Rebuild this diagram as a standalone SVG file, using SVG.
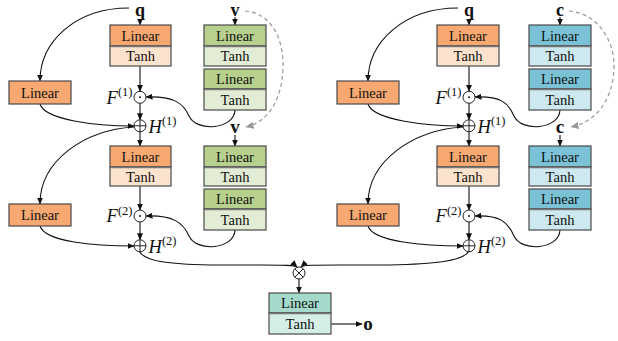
<svg xmlns="http://www.w3.org/2000/svg" width="618" height="341" viewBox="0 0 618 341">
<defs>
<style>
.box{stroke:#4a4a4a;stroke-width:1.2}
.t{font-family:"Liberation Serif","Times New Roman",serif;font-size:14.5px;fill:#111;text-anchor:middle}
.lbl{font-family:"Liberation Serif","Times New Roman",serif;font-size:19px;font-weight:bold;fill:#111;text-anchor:middle}
.top{font-size:18px}
.math{font-family:"Liberation Serif","Times New Roman",serif;font-size:18.5px;fill:#111}
.sup{font-size:12.5px;font-style:normal}
.op{fill:#fff;stroke:#222;stroke-width:1}
.opl{stroke:#222;stroke-width:1;fill:none}
.c{fill:none;stroke:#111;stroke-width:1.1;marker-end:url(#ah)}
.d{fill:none;stroke:#999;stroke-width:1.2;stroke-dasharray:4,3;marker-end:url(#ahg)}
.or1{fill:#F7A971}.or2{fill:#FCE3CE}
.gr1{fill:#B7D08D}.gr2{fill:#E3EDD5}
.bl1{fill:#7BC2D6}.bl2{fill:#CDE8EF}
.te1{fill:#A3DACB}.te2{fill:#D5EFE7}
.div{stroke:#777;stroke-width:1.4}
</style>
<marker id="ah" markerWidth="7" markerHeight="6" refX="6.5" refY="3" orient="auto" markerUnits="userSpaceOnUse"><path d="M0,0 L7,3 L0,6 z" fill="#111"/></marker>
<marker id="ahg" markerWidth="8" markerHeight="7" refX="7.5" refY="3.5" orient="auto" markerUnits="userSpaceOnUse"><path d="M0,0 L8,3.5 L0,7 z" fill="#999"/></marker>
</defs>

<!-- connectors -->
<g id="connectors">
<!-- left module -->
<path class="c" d="M129,8 C75,8 40,42 40,81"/>
<path class="c" d="M140,19 L140,25"/>
<path class="c" d="M140,66 L140,91.3"/>
<path class="c" d="M140,103.3 L140,119.8"/>
<path class="c" d="M40,104 C45,120 95,126 134,126"/>
<path class="c" d="M235,110 C234,130 196,132 189,116 C183,102 172,96 146,97"/>
<path class="d" d="M245,11 C272,13 284,40 283,68 C282,100 268,122 246,127"/>
<path class="c" d="M235,17 L235,25"/>
<path class="c" d="M140,131.8 L140,146"/>
<path class="c" d="M134,127 C85,130 40,160 40,204"/>
<path class="c" d="M235,135 L235,146"/>
<path class="c" d="M140,186 L140,210"/>
<path class="c" d="M140,222 L140,239.8"/>
<path class="c" d="M40,226 C45,242 95,246 134,246"/>
<path class="c" d="M235,230 C234,250 196,252 189,236 C183,222 172,215 146,216"/>
<path class="c" d="M139,251 C145,262 170,264 210,265 L260,265 C285,265 295,265 297,267"/>
<!-- right module -->
<path class="c" d="M458,8 C404,8 368,42 368,81"/>
<path class="c" d="M469,19 L469,25"/>
<path class="c" d="M469,66 L469,91.3"/>
<path class="c" d="M469,103.3 L469,119.8"/>
<path class="c" d="M368,104 C373,120 425,126 463,126"/>
<path class="c" d="M560,110 C559,130 521,132 514,116 C508,102 500,96 475,97"/>
<path class="d" d="M569,11 C597,13 615,40 614,68 C613,100 596,122 571,127"/>
<path class="c" d="M560,17 L560,25"/>
<path class="c" d="M469,131.8 L469,146"/>
<path class="c" d="M463,127 C414,130 368,160 368,204"/>
<path class="c" d="M560,135 L560,146"/>
<path class="c" d="M469,186 L469,210"/>
<path class="c" d="M469,222 L469,239.8"/>
<path class="c" d="M368,226 C373,242 425,246 463,246"/>
<path class="c" d="M560,230 C559,250 521,252 514,236 C508,222 500,215 475,216"/>
<path class="c" d="M469,251 C463,262 430,264 390,265 L340,265 C313,265 303,265 301,267"/>
<!-- output -->
<path class="c" d="M299,279 L299,293"/>
<path class="c" d="M331,324 L362,324"/>
</g>

<!-- left module nodes -->
<g id="q1"><text class="lbl top" x="140" y="16.3">q</text></g>
<g id="v1"><text class="lbl top" x="235" y="16.3">v</text></g>
<g id="v1b"><text class="lbl" x="235" y="133">v</text></g>
<g id="L1_lin"><rect class="box or1" x="9" y="81" width="62" height="23"/><text class="t" x="40" y="97.5">Linear</text></g>
<g id="L1_q1"><rect class="box or1" x="110" y="25" width="61" height="21"/><rect class="box or2" x="110" y="46" width="61" height="20"/><line class="div" x1="110" y1="46.5" x2="171" y2="46.5"/><text class="t" x="140.5" y="40.5">Linear</text><text class="t" x="140.5" y="61">Tanh</text></g>
<g id="L1_v1"><rect class="box gr1" x="204" y="25" width="62" height="21"/><rect class="box gr2" x="204" y="46" width="62" height="20"/><line class="div" x1="204" y1="46.5" x2="266" y2="46.5"/><text class="t" x="235" y="40.5">Linear</text><text class="t" x="235" y="61">Tanh</text></g>
<g id="L1_v2"><rect class="box gr1" x="204" y="69" width="62" height="20"/><rect class="box gr2" x="204" y="89" width="62" height="21"/><line class="div" x1="204" y1="89.5" x2="266" y2="89.5"/><text class="t" x="235" y="84">Linear</text><text class="t" x="235" y="105">Tanh</text></g>
<g id="L1_F1"><circle class="op" cx="140" cy="97.3" r="6"/><circle cx="140" cy="97.3" r="1" fill="#222"/><text class="math" x="132.5" y="103.5" text-anchor="end"><tspan font-style="italic">F</tspan><tspan class="sup" dy="-7.5">(1)</tspan></text></g>
<g id="L1_H1"><circle class="op" cx="140" cy="125.8" r="6"/><path class="opl" d="M134,125.8 H146 M140,119.8 V131.8"/><text class="math" x="148.5" y="132.5"><tspan font-style="italic">H</tspan><tspan class="sup" dy="-7.5">(1)</tspan></text></g>
<g id="L2_lin"><rect class="box or1" x="9" y="204" width="62" height="22"/><text class="t" x="40" y="220">Linear</text></g>
<g id="L2_q"><rect class="box or1" x="110" y="146" width="61" height="21"/><rect class="box or2" x="110" y="167" width="61" height="19"/><line class="div" x1="110" y1="167.5" x2="171" y2="167.5"/><text class="t" x="140.5" y="161.5">Linear</text><text class="t" x="140.5" y="182">Tanh</text></g>
<g id="L2_v1"><rect class="box gr1" x="204" y="146" width="62" height="21"/><rect class="box gr2" x="204" y="167" width="62" height="19"/><line class="div" x1="204" y1="167.5" x2="266" y2="167.5"/><text class="t" x="235" y="161.5">Linear</text><text class="t" x="235" y="182">Tanh</text></g>
<g id="L2_v2"><rect class="box gr1" x="204" y="189" width="62" height="20"/><rect class="box gr2" x="204" y="209" width="62" height="21"/><line class="div" x1="204" y1="209.5" x2="266" y2="209.5"/><text class="t" x="235" y="204">Linear</text><text class="t" x="235" y="225">Tanh</text></g>
<g id="L2_F"><circle class="op" cx="140" cy="216" r="6"/><circle cx="140" cy="216" r="1" fill="#222"/><text class="math" x="132.5" y="222.2" text-anchor="end"><tspan font-style="italic">F</tspan><tspan class="sup" dy="-7.5">(2)</tspan></text></g>
<g id="L2_H"><circle class="op" cx="140" cy="245.8" r="6"/><path class="opl" d="M134,245.8 H146 M140,239.8 V251.8"/><text class="math" x="148.5" y="252.5"><tspan font-style="italic">H</tspan><tspan class="sup" dy="-7.5">(2)</tspan></text></g>

<!-- right module nodes -->
<g id="q2"><text class="lbl top" x="469" y="16.3">q</text></g>
<g id="c1"><text class="lbl top" x="560" y="16.3">c</text></g>
<g id="c1b"><text class="lbl" x="560" y="133">c</text></g>
<g id="R1_lin"><rect class="box or1" x="337" y="81" width="62" height="23"/><text class="t" x="368" y="97.5">Linear</text></g>
<g id="R1_q"><rect class="box or1" x="437" y="25" width="62" height="21"/><rect class="box or2" x="437" y="46" width="62" height="20"/><line class="div" x1="437" y1="46.5" x2="499" y2="46.5"/><text class="t" x="468" y="40.5">Linear</text><text class="t" x="468" y="61">Tanh</text></g>
<g id="R1_c1"><rect class="box bl1" x="529" y="25" width="62" height="21"/><rect class="box bl2" x="529" y="46" width="62" height="20"/><line class="div" x1="529" y1="46.5" x2="591" y2="46.5"/><text class="t" x="560" y="40.5">Linear</text><text class="t" x="560" y="61">Tanh</text></g>
<g id="R1_c2"><rect class="box bl1" x="529" y="69" width="62" height="20"/><rect class="box bl2" x="529" y="89" width="62" height="21"/><line class="div" x1="529" y1="89.5" x2="591" y2="89.5"/><text class="t" x="560" y="84">Linear</text><text class="t" x="560" y="105">Tanh</text></g>
<g id="R1_F"><circle class="op" cx="469" cy="97.3" r="6"/><circle cx="469" cy="97.3" r="1" fill="#222"/><text class="math" x="461.5" y="103.5" text-anchor="end"><tspan font-style="italic">F</tspan><tspan class="sup" dy="-7.5">(1)</tspan></text></g>
<g id="R1_H"><circle class="op" cx="469" cy="125.8" r="6"/><path class="opl" d="M463,125.8 H475 M469,119.8 V131.8"/><text class="math" x="477.5" y="132.5"><tspan font-style="italic">H</tspan><tspan class="sup" dy="-7.5">(1)</tspan></text></g>
<g id="R2_lin"><rect class="box or1" x="337" y="204" width="62" height="22"/><text class="t" x="368" y="220">Linear</text></g>
<g id="R2_q"><rect class="box or1" x="437" y="146" width="62" height="21"/><rect class="box or2" x="437" y="167" width="62" height="19"/><line class="div" x1="437" y1="167.5" x2="499" y2="167.5"/><text class="t" x="468" y="161.5">Linear</text><text class="t" x="468" y="182">Tanh</text></g>
<g id="R2_c1"><rect class="box bl1" x="529" y="146" width="62" height="21"/><rect class="box bl2" x="529" y="167" width="62" height="19"/><line class="div" x1="529" y1="167.5" x2="591" y2="167.5"/><text class="t" x="560" y="161.5">Linear</text><text class="t" x="560" y="182">Tanh</text></g>
<g id="R2_c2"><rect class="box bl1" x="529" y="189" width="62" height="20"/><rect class="box bl2" x="529" y="209" width="62" height="21"/><line class="div" x1="529" y1="209.5" x2="591" y2="209.5"/><text class="t" x="560" y="204">Linear</text><text class="t" x="560" y="225">Tanh</text></g>
<g id="R2_F"><circle class="op" cx="469" cy="216" r="6"/><circle cx="469" cy="216" r="1" fill="#222"/><text class="math" x="461.5" y="222.2" text-anchor="end"><tspan font-style="italic">F</tspan><tspan class="sup" dy="-7.5">(2)</tspan></text></g>
<g id="R2_H"><circle class="op" cx="469" cy="245.8" r="6"/><path class="opl" d="M463,245.8 H475 M469,239.8 V251.8"/><text class="math" x="477.5" y="252.5"><tspan font-style="italic">H</tspan><tspan class="sup" dy="-7.5">(2)</tspan></text></g>

<!-- output -->
<g id="otimes"><circle class="op" cx="299" cy="273" r="6"/><path class="opl" d="M294.8,268.8 L303.2,277.2 M303.2,268.8 L294.8,277.2"/></g>
<g id="out_box"><rect class="box te1" x="269" y="293" width="62" height="20"/><rect class="box te2" x="269" y="313" width="62" height="21"/><line class="div" x1="269" y1="313.5" x2="331" y2="313.5"/><text class="t" x="300" y="308">Linear</text><text class="t" x="300" y="329">Tanh</text></g>
<g id="o"><text class="lbl" x="368" y="330">o</text></g>
</svg>
